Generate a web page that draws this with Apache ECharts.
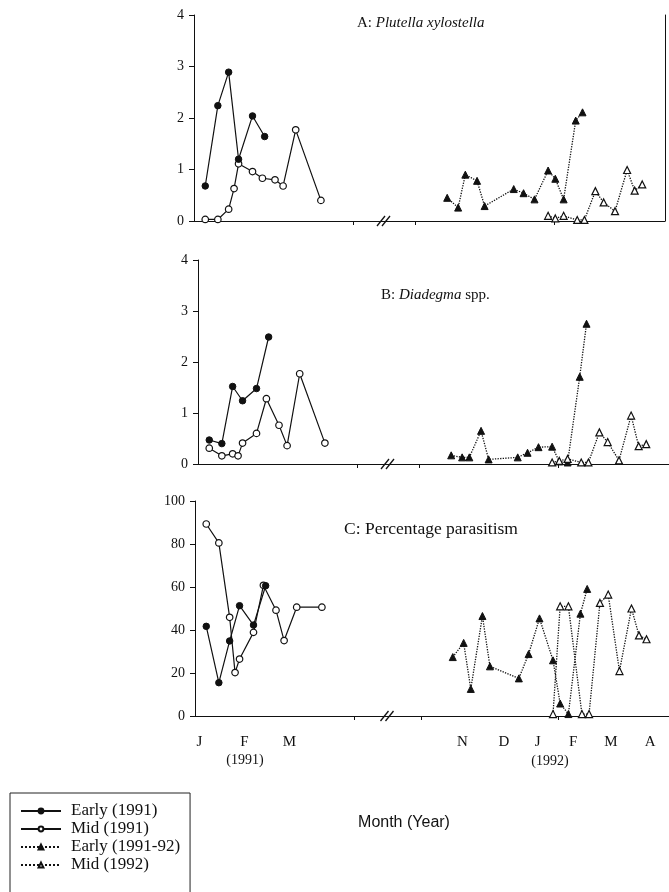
<!DOCTYPE html>
<html>
<head>
<meta charset="utf-8">
<script src="https://cdn.jsdelivr.net/npm/echarts@6.0.0/dist/echarts.min.js"></script>
<style>
    html, body {margin: 0; padding: 0; background: #fff;}
    #chart {width: 669px; height: 892px;}
</style>
</head>
<body>
<div id="chart"></div>
<script>
// x axis: months, left part J=0 (1991), right part N=0 (1991-92)
const leftMonths = ['J', 'F', 'M'];
const leftMonthPos = [0, 1, 2];
const rightMonths = ['N', 'D', 'J', 'F', 'M', 'A'];
const rightMonthPos = [0, 1.1, 2, 2.95, 3.95, 5];
const leftTickPos = [3.44];
const rightTickPos = [-1.1, 2.56];

// sampling dates
const early91X = [0.15, 0.43, 0.67, 0.89, 1.2, 1.47];
const mid91X = [0.15, 0.43, 0.67, 0.79, 0.89, 1.2, 1.42, 1.7, 1.88, 2.16, 2.72];
const early9192X = [-0.26, 0.03, 0.22, 0.53, 0.73, 1.5, 1.76, 2.05, 2.41, 2.6, 2.82, 3.14, 3.32];
const mid92X = [2.41, 2.6, 2.82, 3.18, 3.37, 3.66, 3.88, 4.18, 4.5, 4.7, 4.9];

// A: Plutella xylostella
const plutellaEarly91 = [0.68, 2.24, 2.89, 1.20, 2.04, 1.64];
const plutellaMid91 = [0.03, 0.03, 0.23, 0.63, 1.11, 0.96, 0.83, 0.80, 0.68, 1.77, 0.40];
const plutellaEarly9192 = [0.45, 0.26, 0.90, 0.78, 0.29, 0.62, 0.54, 0.42, 0.98, 0.82, 0.42, 1.95, 2.11];
const plutellaMid92 = [0.10, 0.05, 0.10, 0.02, 0.02, 0.58, 0.36, 0.19, 0.99, 0.59, 0.71];

// B: Diadegma spp.
const diadegmaEarly91 = [0.47, 0.40, 1.52, 1.24, 1.48, 2.49];
const diadegmaMid91 = [0.31, 0.16, 0.20, 0.16, 0.41, 0.60, 1.28, 0.76, 0.36, 1.77, 0.41];
const diadegmaEarly9192 = [0.17, 0.13, 0.13, 0.65, 0.09, 0.13, 0.22, 0.33, 0.34, 0.05, 0.03, 1.71, 2.75];
const diadegmaMid92 = [0.03, 0.06, 0.10, 0.03, 0.03, 0.62, 0.43, 0.07, 0.95, 0.35, 0.39];

// C: Percentage parasitism
const parasitismEarly91 = [41.7, 15.5, 34.9, 51.3, 42.3, 60.6];
const parasitismMid91 = [89.3, 80.5, 45.9, 20.2, 26.5, 38.9, 60.8, 49.2, 35.1, 50.6, 50.6];
const parasitismEarly9192 = [27.4, 34.0, 12.6, 46.5, 23.1, 17.5, 28.8, 45.4, 25.9, 5.8, 0.9, 47.6, 59.1];
const parasitismMid92 = [0.9, 51.0, 51.0, 0.9, 0.9, 52.6, 56.5, 20.9, 50.0, 37.5, 35.7];

const ink = '#111';
const serif = 'Liberation Serif';

// layout of the three panels
const panels = [
    {axisX: 194, top: 15, height: 206, leftW: 191.2, rightShift: 0, yMax: 4, yInt: 1, border: true, labels: false,
        values: [plutellaEarly91, plutellaMid91, plutellaEarly9192, plutellaMid92]},
    {axisX: 198, top: 260, height: 204, leftW: 191.2, rightShift: 0, yMax: 4, yInt: 1, border: true, labels: false,
        values: [diadegmaEarly91, diadegmaMid91, diadegmaEarly9192, diadegmaMid92]},
    {axisX: 195, top: 501, height: 215, leftW: 196.2, rightShift: 5, yMax: 100, yInt: 20, border: false, labels: true,
        values: [parasitismEarly91, parasitismMid91, parasitismEarly9192, parasitismMid92]},
];
const leftScale = 45;   // px per month
const rightScale = 37.8;
const rightW = 279.7;

const nearestLabel = (v, pos, names) => {
    let best = 0;
    pos.forEach((p, i) => {
        if (Math.abs(p - v) < Math.abs(pos[best] - v)) best = i;
    });
    return names[best];
};

const pair = (xs, ys) => xs.map((x, i) => [x, ys[i]]);

const grid = [], xAxis = [], yAxis = [], series = [], graphic = [];

panels.forEach((p, k) => {
    const gl = k * 2, gr = k * 2 + 1;
    grid.push({left: p.axisX, top: p.top, width: p.leftW, height: p.height});
    grid.push({left: p.axisX + 191.2 + p.rightShift, top: p.top, width: rightW, height: p.height});

    const baseX = {
        type: 'value',
        splitLine: {show: false},
        axisLine: {show: true, onZero: false, lineStyle: {color: ink, width: 1}},
        axisTick: {show: true, length: 4, lineStyle: {color: ink}},
    };
    xAxis.push(Object.assign({}, baseX, {
        gridIndex: gl, min: -0.1, max: -0.1 + p.leftW / leftScale,
        axisTick: Object.assign({}, baseX.axisTick, {customValues: leftTickPos}),
        axisLabel: {
            show: p.labels, customValues: leftMonthPos, margin: 19,
            fontFamily: serif, fontSize: 15, color: ink,
            formatter: v => nearestLabel(v, leftMonthPos, leftMonths)
        }
    }));
    xAxis.push(Object.assign({}, baseX, {
        gridIndex: gr, min: -1.9, max: -1.9 + rightW / rightScale,
        axisTick: Object.assign({}, baseX.axisTick, {customValues: rightTickPos}),
        axisLabel: {
            show: p.labels, customValues: rightMonthPos, margin: 19,
            fontFamily: serif, fontSize: 15, color: ink,
            formatter: v => nearestLabel(v, rightMonthPos, rightMonths)
        }
    }));

    yAxis.push({
        gridIndex: gl, type: 'value', min: 0, max: p.yMax, interval: p.yInt,
        splitLine: {show: false},
        axisLine: {show: true, onZero: false, lineStyle: {color: ink, width: 1}},
        axisTick: {show: true, length: 5, lineStyle: {color: ink}},
        axisLabel: {margin: 10, fontFamily: serif, fontSize: 14, color: ink},
    });
    yAxis.push({
        gridIndex: gr, type: 'value', min: 0, max: p.yMax, position: 'right',
        splitLine: {show: false},
        axisLine: {show: p.border, onZero: false, lineStyle: {color: ink, width: 1}},
        axisTick: {show: false},
        axisLabel: {show: false},
    });

    const solid = {color: ink, width: 1.2, type: 'solid'};
    const dotted = {color: ink, width: 1.3, type: 'dotted'};
    const filled = {color: ink, borderColor: ink, borderWidth: 1};
    const open = {color: '#fff', borderColor: ink, borderWidth: 1.2};
    series.push(
        {name: 'Early (1991)', type: 'line', xAxisIndex: gl, yAxisIndex: gl, data: pair(early91X, p.values[0]),
            symbol: 'circle', symbolSize: 6.5, lineStyle: solid, itemStyle: filled, z: 3},
        {name: 'Mid (1991)', type: 'line', xAxisIndex: gl, yAxisIndex: gl, data: pair(mid91X, p.values[1]),
            symbol: 'circle', symbolSize: 6.5, lineStyle: solid, itemStyle: open, z: 2},
        {name: 'Early (1991-92)', type: 'line', xAxisIndex: gr, yAxisIndex: gr, data: pair(early9192X, p.values[2]),
            symbol: 'triangle', symbolSize: 7, lineStyle: dotted, itemStyle: filled, z: 3},
        {name: 'Mid (1992)', type: 'line', xAxisIndex: gr, yAxisIndex: gr, data: pair(mid92X, p.values[3]),
            symbol: 'triangle', symbolSize: 7, lineStyle: dotted, itemStyle: open, z: 4},
    );

    // axis break mark "//"
    const bx = p.axisX + 192 + p.rightShift / 2 - 1, by = p.top + p.height;
    [-4, 1].forEach(dx => {
        graphic.push({
            type: 'line', z: 10,
            shape: {x1: bx + dx - 4, y1: by + 5, x2: bx + dx + 4, y2: by - 5},
            style: {stroke: ink, lineWidth: 1.3}
        });
    });
});

graphic.push(
    {type: 'text', x: 245, y: 760, style: {text: '(1991)', font: '14px "Liberation Serif"', fill: ink, align: 'center', verticalAlign: 'middle'}},
    {type: 'text', x: 550, y: 761, style: {text: '(1992)', font: '14px "Liberation Serif"', fill: ink, align: 'center', verticalAlign: 'middle'}},
    {type: 'text', x: 404, y: 823, style: {text: 'Month (Year)', font: '16px "Liberation Sans"', fill: ink, align: 'center', verticalAlign: 'middle'}},
);

const titleStyle = size => ({
    fontWeight: 'normal',
    rich: {
        n: {fontFamily: serif, fontSize: size, color: ink, fontWeight: 'normal'},
        i: {fontFamily: serif, fontSize: size, color: ink, fontWeight: 'normal', fontStyle: 'italic'},
    }
});

const option = {
    backgroundColor: '#fff',
    animation: false,
    title: [
        {text: '{n|A: }{i|Plutella xylostella}', left: 357, top: 16, padding: 0, textStyle: titleStyle(15)},
        {text: '{n|B: }{i|Diadegma}{n| spp.}', left: 381, top: 288, padding: 0, textStyle: titleStyle(15)},
        {text: '{n|C: Percentage parasitism}', left: 344, top: 520, padding: 0, textStyle: titleStyle(17.5)},
    ],
    legend: {
        data: ['Early (1991)', 'Mid (1991)', 'Early (1991-92)', 'Mid (1992)'],
        orient: 'vertical', left: 10, top: 793, height: 100,
        itemWidth: 40, itemHeight: 6, itemGap: 0,
        padding: [9, 10, 40, 10],
        borderColor: '#222', borderWidth: 1,
        selectedMode: false,
        textStyle: {fontFamily: serif, fontSize: 17, color: ink, lineHeight: 18, padding: [0, 0, 0, 5]},
    },
    grid, xAxis, yAxis, series, graphic,
};

const chart = echarts.init(document.getElementById('chart'));
chart.setOption(option);
</script>
</body>
</html>
